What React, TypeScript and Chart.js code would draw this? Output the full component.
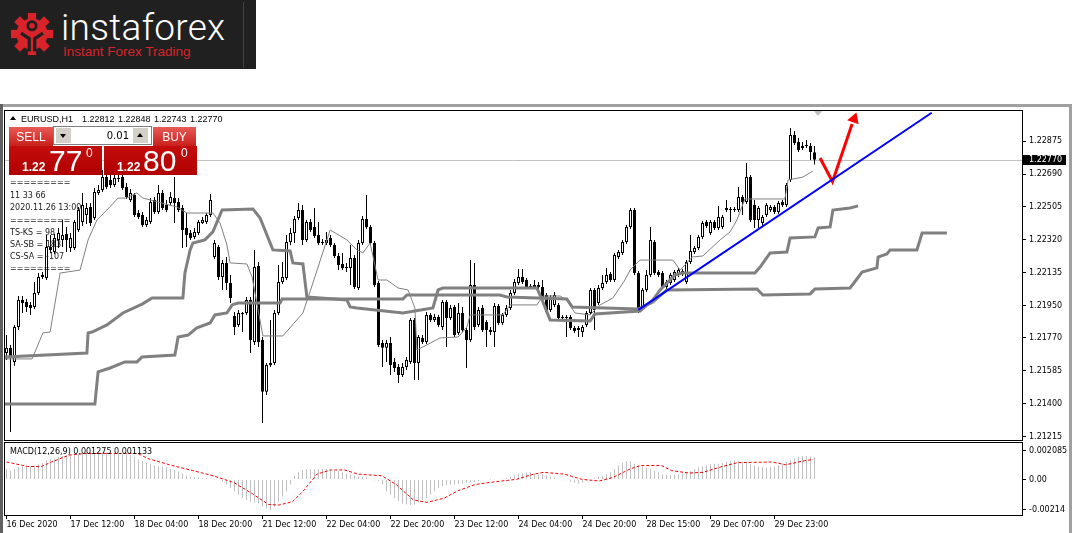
import React, { useEffect, useRef } from "react";
import { Chart, registerables } from "chart.js";

Chart.register(...registerables);

// ---------------- DATA ----------------
const opens = [
  1.21685,1.21714,1.21635,1.21831,1.21983,1.21972,1.21955,1.21944,1.22022,1.22112,
  1.22106,1.2228,1.22252,1.2232,1.2232,1.22353,1.22275,1.22275,1.22376,1.22421,
  1.2246,1.22505,1.22443,1.22584,1.226,1.22673,1.22656,1.22628,1.22668,1.22673,
  1.22617,1.22544,1.22572,1.22471,1.2246,1.22404,1.22421,1.22544,1.22477,1.22584,
  1.22516,1.22527,1.22555,1.22533,1.22499,1.22387,1.22359,1.22337,1.22359,1.22415,
  1.22421,1.2246,1.22224,1.2228,1.22112,1.22191,1.22078,1.21893,1.21843,1.2191,
  1.2191,1.21983,1.21747,1.22174,1.21758,1.21467,1.21618,1.21629,1.2191,1.22084,
  1.22106,1.22308,1.22359,1.22443,1.22488,1.2232,1.22421,1.22393,1.22348,1.22308,
  1.22303,1.22331,1.22292,1.2223,1.22185,1.22163,1.22163,1.22219,1.2205,1.22303,
  1.22438,1.22393,1.22303,1.22078,1.21742,1.21714,1.21742,1.21635,1.21607,1.21562,
  1.21607,1.21635,1.21871,1.21629,1.2177,1.21747,1.21899,1.21871,1.21887,1.21831,
  1.21972,1.21882,1.21944,1.21798,1.2191,1.21815,1.21758,1.22067,1.21843,1.21938,
  1.21859,1.21815,1.21803,1.21949,1.21854,1.21899,1.21938,1.22022,1.22078,1.22112,
  1.22095,1.22061,1.22056,1.22067,1.22056,1.22011,1.21927,1.21955,1.21955,1.21887,
  1.21882,1.21887,1.21826,1.21826,1.21803,1.21843,1.2191,1.22039,1.21966,1.2205,
  1.22084,1.22129,1.22095,1.22224,1.22247,1.22308,1.22393,1.22488,1.22134,1.21944,
  1.22039,1.22123,1.22308,1.2214,1.22134,1.22056,1.22078,1.22095,1.22123,1.22129,
  1.22084,1.22196,1.22252,1.22275,1.22337,1.22421,1.22359,1.22421,1.22387,1.22393,
  1.22499,1.22494,1.22488,1.22488,1.22561,1.22533,1.22673,1.22516,1.22432,1.22415,
  1.2246,1.22488,1.22505,1.22477,1.22533,1.22516,1.22656,1.22909,1.2287,1.22836,
  1.22853,1.22847,1.22812,
];
const highs = [
  1.21786,1.2173,1.21843,1.22005,1.22005,1.21988,1.21972,1.22084,1.22134,1.2214,
  1.22348,1.22348,1.22353,1.22387,1.22432,1.22393,1.22359,1.22432,1.22505,1.22584,
  1.22527,1.22527,1.22611,1.22628,1.22713,1.22701,1.2269,1.22685,1.22685,1.2269,
  1.2264,1.22606,1.22584,1.22488,1.22477,1.22449,1.22555,1.22561,1.22628,1.226,
  1.22544,1.22589,1.22673,1.22555,1.22516,1.22471,1.22376,1.22387,1.22432,1.22449,
  1.22471,1.22578,1.2232,1.22292,1.22207,1.22224,1.22123,1.21916,1.21927,1.21916,
  1.22,1.22,1.22264,1.22196,1.21775,1.21629,1.21871,1.21927,1.22179,1.22196,
  1.22348,1.22387,1.22455,1.22527,1.22516,1.22432,1.22438,1.22499,1.22421,1.22325,
  1.22365,1.22348,1.22303,1.22247,1.22247,1.22191,1.22292,1.22236,1.2232,1.22455,
  1.22572,1.22404,1.22314,1.2209,1.21758,1.21758,1.21775,1.21657,1.21624,1.21629,
  1.21663,1.21882,1.21882,1.21786,1.21786,1.21916,1.2191,1.21904,1.21899,1.21983,
  1.21983,1.21955,1.21955,1.21966,1.21944,1.21826,1.22207,1.22191,1.21944,1.21955,
  1.21871,1.21831,1.21966,1.2196,1.2191,1.21955,1.22039,1.22101,1.22157,1.22157,
  1.22106,1.22073,1.22095,1.22084,1.22095,1.22022,1.22011,1.22028,1.21966,1.21899,
  1.21899,1.21899,1.21837,1.21837,1.21843,1.21921,1.2205,1.2205,1.22067,1.22123,
  1.22163,1.2214,1.22247,1.22264,1.2232,1.22404,1.22499,1.22499,1.22146,1.2205,
  1.22151,1.22393,1.2232,1.22151,1.22146,1.22095,1.22134,1.22151,1.22163,1.22157,
  1.22207,1.22348,1.22286,1.22348,1.22426,1.22432,1.22432,1.22432,1.22511,1.2246,
  1.22544,1.22505,1.22505,1.22617,1.22572,1.22752,1.22685,1.22544,1.22511,1.2246,
  1.22527,1.22516,1.22516,1.22539,1.22544,1.2264,1.22948,1.22932,1.22892,1.2287,
  1.22881,1.22864,1.22848,
];
const lows = [
  1.21646,1.21242,1.21613,1.21815,1.2191,1.21916,1.21899,1.21932,1.22011,1.22101,
  1.22095,1.22247,1.22241,1.22275,1.2228,1.22252,1.22252,1.22264,1.22365,1.22398,
  1.2241,1.22398,1.22432,1.22572,1.22589,1.22606,1.22611,1.22617,1.22645,1.226,
  1.2255,1.22533,1.22449,1.22438,1.22393,1.22393,1.2241,1.22466,1.22466,1.22488,
  1.22477,1.22516,1.22415,1.22477,1.22275,1.2228,1.2232,1.22325,1.22348,1.2241,
  1.2241,1.22449,1.22213,1.22095,1.22039,1.22039,1.21966,1.21786,1.21831,1.21803,
  1.21899,1.21685,1.2173,1.21719,1.21292,1.2145,1.21607,1.21618,1.21899,1.22073,
  1.22095,1.22292,1.22303,1.22432,1.22292,1.22308,1.22365,1.22331,1.22292,1.22292,
  1.22292,1.2228,1.22219,1.22151,1.22151,1.2214,1.22067,1.22045,1.22039,1.22292,
  1.22381,1.22292,1.22056,1.21719,1.21607,1.21635,1.21562,1.21579,1.21517,1.21551,
  1.2159,1.21624,1.21534,1.21534,1.21736,1.21736,1.21859,1.21859,1.21831,1.21815,
  1.21719,1.21871,1.21775,1.21786,1.21803,1.21601,1.21747,1.21815,1.21831,1.21803,
  1.21719,1.21786,1.21719,1.21843,1.21843,1.21887,1.21927,1.22011,1.22067,1.22073,
  1.22045,1.22045,1.22045,1.22045,1.21988,1.21904,1.21916,1.21944,1.21871,1.21871,
  1.21775,1.21815,1.21798,1.21775,1.21775,1.21831,1.21899,1.21815,1.21955,1.22039,
  1.22073,1.22084,1.22084,1.22213,1.22236,1.22297,1.22381,1.22123,1.2191,1.21927,
  1.22028,1.22112,1.22123,1.22112,1.22045,1.22045,1.22067,1.22084,1.22112,1.22118,
  1.22073,1.22185,1.22241,1.22264,1.22325,1.22387,1.22348,1.22376,1.22376,1.22381,
  1.22477,1.22421,1.22477,1.22477,1.2246,1.22522,1.22421,1.22387,1.22376,1.22393,
  1.22449,1.22477,1.22466,1.22466,1.22505,1.22505,1.22645,1.22853,1.22814,1.22825,
  1.22836,1.22769,1.22743,
];
const closes = [
  1.21714,1.21663,1.21831,1.21983,1.21966,1.21944,1.21938,1.22022,1.22112,1.22123,
  1.2228,1.22264,1.22331,1.22359,1.22348,1.2232,1.22331,1.22421,1.22488,1.22516,
  1.22499,1.22415,1.22589,1.226,1.22673,1.22617,1.22628,1.22668,1.22662,1.22611,
  1.22561,1.22584,1.2246,1.22449,1.22404,1.22432,1.22533,1.22477,1.22584,1.22499,
  1.22488,1.22561,1.22527,1.22488,1.22376,1.22348,1.22331,1.22365,1.22421,1.22432,
  1.2246,1.22544,1.22303,1.22112,1.22191,1.22078,1.21994,1.21831,1.2191,1.21904,
  1.21983,1.21758,1.22168,1.21747,1.21467,1.21618,1.21629,1.2191,1.22084,1.22112,
  1.22308,1.22359,1.22438,1.22488,1.2232,1.22421,1.22376,1.22342,1.22303,1.22303,
  1.2232,1.22292,1.2223,1.22179,1.22163,1.22168,1.22219,1.22056,1.22303,1.22438,
  1.22393,1.22303,1.22067,1.2173,1.21714,1.21742,1.21618,1.21601,1.21562,1.21607,
  1.21646,1.21871,1.21629,1.21775,1.21747,1.21899,1.21871,1.21887,1.21843,1.21972,
  1.21882,1.21938,1.21786,1.2191,1.21815,1.21758,1.22067,1.21831,1.21927,1.21815,
  1.21815,1.21803,1.21949,1.21854,1.21899,1.21938,1.22022,1.22084,1.22112,1.22084,
  1.22056,1.22056,1.22067,1.22056,1.22,1.21916,1.22,1.22011,1.21882,1.21882,
  1.21887,1.21826,1.21809,1.21815,1.21831,1.2191,1.22039,1.21927,1.2205,1.22078,
  1.22123,1.22095,1.22236,1.22252,1.22308,1.22393,1.22488,1.22134,1.21938,1.22039,
  1.22123,1.2232,1.22134,1.22123,1.22056,1.22084,1.22123,1.2214,1.22151,1.22146,
  1.22196,1.22258,1.22275,1.22337,1.22415,1.22398,1.22421,1.22387,1.22449,1.22449,
  1.22488,1.22488,1.22494,1.22561,1.22533,1.22673,1.22432,1.22432,1.22499,1.22449,
  1.22516,1.22505,1.22477,1.22527,1.22516,1.22628,1.22909,1.22864,1.22825,1.22847,
  1.22847,1.22814,1.2277,
];

// Ichimoku style lines: [bar index, price]
const tenkanLine = [
  [-0.4,1.21652],[6.4,1.21652],[9.1,1.21798],[10.9,1.21803],[13.4,1.22134],[18.4,1.22151],
  [20.4,1.2232],[22.6,1.22432],[25.1,1.22488],[27.9,1.22555],[30.1,1.22555],[32.6,1.22584],
  [34.1,1.22555],[42.6,1.22505],[45.1,1.22471],[51.6,1.22471],[53.4,1.22415],[55.1,1.22292],
  [55.9,1.22191],[60.1,1.22185],[61.4,1.22112],[64.1,1.21781],[69.1,1.21781],[74.1,1.2191],
  [76.6,1.22078],[80.9,1.22376],[85.1,1.2232],[87.6,1.22264],[89.1,1.22247],[90.9,1.22303],
  [92.9,1.22095],[95.1,1.22095],[97.9,1.2205],[100.4,1.22039],[102.1,1.21938],[102.6,1.21702],
  [104.1,1.21719],[108.4,1.2177],[112.9,1.21775],[115.1,1.21831],[115.9,1.21899],[124.1,1.21899],
  [125.9,1.21955],[132.6,1.21955],[134.1,1.22005],[138.4,1.22005],[140.1,1.21983],[142.1,1.2191],
  [145.9,1.21899],[148.4,1.21955],[151.6,1.21994],[154.6,1.22095],[155.9,1.22151],[158.4,1.22207],
  [166.6,1.22207],[168.4,1.22151],[170.1,1.22191],[171.4,1.22224],[174.1,1.2223],[178.4,1.2232],
  [180.9,1.22365],[182.6,1.22432],[184.6,1.2255],[194.6,1.2255],[195.4,1.22657],[199.1,1.22673],
  [201.6,1.22707],
];
const spanA = [
  [-0.4,1.21663],[20.1,1.21685],[20.4,1.21798],[21.4,1.21803],[25.1,1.21843],[29.1,1.2191],
  [33.9,1.2196],[36.4,1.21994],[44.1,1.21994],[44.6,1.22134],[45.9,1.22264],[46.6,1.22303],
  [49.6,1.2232],[51.6,1.22365],[53.9,1.22488],[61.6,1.22494],[63.4,1.22443],[66.6,1.22264],
  [70.9,1.22258],[71.6,1.22191],[74.1,1.22185],[75.1,1.22],[85.1,1.21983],[85.9,1.21944],
  [87.6,1.21938],[99.1,1.2191],[106.6,1.21938],[107.9,1.22039],[109.1,1.2205],[132.6,1.2205],
  [133.9,1.21983],[135.9,1.21871],[145.9,1.21865],[147.1,1.21904],[158.4,1.21921],[161.6,1.21983],
  [163.4,1.22039],[167.1,1.22123],[168.9,1.22134],[187.1,1.22134],[188.4,1.22168],[190.9,1.22247],
  [195.1,1.22252],[195.9,1.22331],[202.1,1.22337],[202.9,1.22387],[205.9,1.22393],[206.6,1.22488],
  [210.9,1.22499],[212.9,1.22511],
];
const spanB = [
  [-0.4,1.21399],[22.1,1.21399],[22.9,1.21579],[25.9,1.21601],[29.6,1.21635],[32.6,1.21635],
  [33.9,1.21663],[42.1,1.21674],[42.9,1.21775],[45.4,1.21786],[47.6,1.21826],[50.9,1.21854],
  [52.1,1.21899],[55.1,1.2191],[56.4,1.21955],[57.9,1.21966],[68.4,1.21966],[68.9,1.21988],
  [99.1,1.21988],[100.1,1.22011],[123.4,1.22011],[125.1,1.22],[140.1,1.21988],[141.4,1.21944],
  [157.9,1.21932],[161.6,1.21972],[165.1,1.22039],[187.6,1.22045],[189.1,1.22011],[200.9,1.22017],
  [202.1,1.22045],[210.9,1.2205],[213.9,1.2214],[217.6,1.22163],[217.9,1.22224],[220.1,1.22241],
  [220.9,1.22264],[227.6,1.22264],[228.9,1.22359],[235.1,1.22359],
];
const trendBlue = [[157.95,1.21927],[231.3,1.23034]];
const arrowRed = [[203.4,1.2278],[206.5,1.22647],[211.4,1.22971]];
const arrowTip = [211.9,1.22999];

const macdHist = [
  0.00076,0.00064,0.00076,0.00089,0.00094,0.00094,0.00094,0.00101,0.00109,0.00118,
  0.00138,0.00143,0.0015,0.00163,0.00168,0.00168,0.00172,0.00175,0.00182,0.00187,
  0.00192,0.00192,0.00187,0.00192,0.00192,0.00192,0.00187,0.00187,0.00187,0.00182,
  0.00182,0.00175,0.00163,0.00143,0.00133,0.00118,0.00109,0.00101,0.00096,0.00094,
  0.00089,0.00076,0.00069,0.00059,0.00044,0.00027,0.0002,0.00018,0.00015,0.0001,
  0.0001,0.00005,0.00001,-0.00005,-0.00015,-0.00035,-0.00059,-0.00084,-0.00109,-0.00133,
  -0.00145,-0.00158,-0.00163,-0.0017,-0.00195,-0.00207,-0.00219,-0.00195,-0.00158,-0.00121,
  -0.00084,-0.00035,0.00027,0.00052,0.00069,0.00076,0.00076,0.00076,0.00076,0.00076,
  0.00076,0.00069,0.00064,0.00059,0.00052,0.00044,0.00035,0.00027,0.0002,0.00015,
  0.00015,0.00002,-0.00005,-0.0001,-0.00035,-0.00084,-0.00109,-0.00133,-0.00153,-0.0017,
  -0.00178,-0.00182,-0.00178,-0.00163,-0.00145,-0.00133,-0.00109,-0.00084,-0.00059,-0.00047,
  -0.00039,-0.00037,-0.00035,-0.0003,-0.0003,-0.00022,-0.00015,-0.00015,-0.0001,-0.00005,
  -0.00005,0.00001,0.00001,0.00005,0.00003,0.0001,0.0002,0.00035,0.00039,0.00044,
  0.00049,0.00052,0.00044,0.00039,0.00039,0.00032,0.0002,0.00015,0.00002,-0.00005,
  -0.00005,-0.00015,-0.00022,-0.0003,-0.00022,-0.0001,-0.00005,0.0001,0.0002,0.00027,
  0.00039,0.00052,0.00076,0.00101,0.00118,0.00133,0.00133,0.00113,0.00101,0.00094,
  0.00084,0.00076,0.00064,0.00052,0.00039,0.00035,0.00035,0.00039,0.00039,0.00044,
  0.00052,0.00059,0.00076,0.00089,0.00094,0.00101,0.00109,0.00113,0.00113,0.00118,
  0.00126,0.00133,0.00138,0.00133,0.00126,0.00118,0.00109,0.00101,0.00094,0.00089,
  0.00084,0.00089,0.00094,0.00101,0.00113,0.00126,0.00138,0.0015,0.00163,0.00168,
  0.00168,0.00163,0.00158,
];
const signalIdx = [
  0,5.3,8.7,11.3,15.6,19.9,32.8,35.4,41.4,46.6,51.7,56.9,61.2,65.5,68.1,71.5,74.1,77.6,81,84.5,
  87.9,93.9,97.4,101.7,105.1,109.4,112.9,117.2,122.3,127.5,131.8,134.3,139.5,143.8,148.2,151.6,
  155.9,158.5,163.7,166.3,170.6,174.1,178.4,182.7,191.4,194.8,200,201.7,
];
const signalVal = [
  0.00126,0.00094,0.00094,0.00126,0.00175,0.00187,0.00187,0.0015,0.00101,0.00064,0.00027,-0.00022,
  -0.00096,-0.00178,-0.00182,-0.00158,-0.00084,0.00039,0.00069,0.00069,0.00039,0.00027,-0.00035,
  -0.00145,-0.00163,-0.00133,-0.00079,-0.00035,-0.00015,0.00002,0.00039,0.00052,0.00039,0.00002,
  -0.0001,0.00015,0.00076,0.00101,0.00101,0.00064,0.00047,0.00052,0.00089,0.00121,0.00126,0.00106,
  0.00138,0.00143,
];

const priceTicks = [1.22875,1.2269,1.22505,1.2232,1.22135,1.2195,1.2177,1.21585,1.214,1.21215];
const macdTicks = [0.002085,0,-0.00214];
const macdTickLabels = ["0.002085","0.00","-0.00214"];
const timeTickIdx = [0,16,32,48,64,80,96,112,128,144,160,176,192];
const timeLabels = [
  "16 Dec 2020","17 Dec 12:00","18 Dec 04:00","18 Dec 20:00","21 Dec 12:00","22 Dec 04:00",
  "22 Dec 20:00","23 Dec 12:00","24 Dec 04:00","24 Dec 20:00","28 Dec 15:00","29 Dec 07:00","29 Dec 23:00",
];
const lastPrice = 1.2277;
const headerSymbol = "EURUSD,H1";
const headerValues = ["1.22812","1.22848","1.22743","1.22770"];
const infoLines = ["=========","11 33 66","2020.11.26 13:00","=========","TS-KS = 98","SA-SB = 183","CS-SA = -107","========="];
const macdCaption = "MACD(12,26,9) 0.001275 0.001133";

const X_MIN = -0.375, X_MAX = 253.875;
const Y_MIN = 1.211968, Y_MAX = 1.230438;
const M_MIN = -0.002531, M_MAX = 0.002617;

const FONT = "'DejaVu Sans', sans-serif";
const ARIAL = "'Liberation Sans', Arial, sans-serif";

function lineDs(pts: number[][], color: string, width: number, order: number) {
  return {
    type: "line" as const,
    data: pts.map(([x, y]) => ({ x, y })),
    borderColor: color,
    borderWidth: width,
    pointRadius: 0,
    pointHoverRadius: 0,
    tension: 0,
    fill: false,
    order,
    borderJoinStyle: "miter" as const,
    borderCapStyle: "butt" as const,
  };
}

const fixY = (s: any) => { s.width = 50; s.paddingTop = 0; s.paddingBottom = 0; };

export default function App() {
  const mainRef = useRef<HTMLCanvasElement>(null);
  const macdRef = useRef<HTMLCanvasElement>(null);

  useEffect(() => {
    const tickFont = { family: FONT, size: 8 };
    const bodies = opens.map((o, i) => ({ x: i, y: [o, closes[i]] }));
    const wicks = lows.map((l, i) => ({ x: i, y: [l, highs[i]] }));
    const bodyColors = opens.map((o, i) => (closes[i] >= o ? "#ffffff" : "#000000"));

    const framePlugin = {
      id: "frame",
      beforeDatasetsDraw(chart: any) {
        if (chart.canvas !== mainRef.current) return;
        const { ctx, chartArea } = chart;
        const y = Math.round(chart.scales.y.getPixelForValue(lastPrice)) + 0.5;
        ctx.save();
        ctx.strokeStyle = "#c0c0c0";
        ctx.lineWidth = 1;
        ctx.beginPath();
        ctx.moveTo(chartArea.left, y);
        ctx.lineTo(chartArea.right, y);
        ctx.stroke();
        ctx.restore();
      },
      afterDraw(chart: any) {
        const { ctx, chartArea } = chart;
        ctx.save();
        ctx.strokeStyle = "#000";
        ctx.lineWidth = 1;
        ctx.strokeRect(chartArea.left - 0.5, chartArea.top - 0.5, chartArea.right - chartArea.left + 1, chartArea.bottom - chartArea.top + 1);
        if (chart.canvas === mainRef.current) {
          const y = Math.round(chart.scales.y.getPixelForValue(lastPrice));
          ctx.fillStyle = "#000";
          ctx.fillRect(chartArea.right + 1, y - 5, 43, 10);
          ctx.fillStyle = "#fff";
          ctx.font = `8px ${FONT}`;
          ctx.textBaseline = "middle";
          ctx.textAlign = "left";
          ctx.fillText(lastPrice.toFixed(5), chartArea.right + 7, y);
        }
        ctx.restore();
      },
    };

    const main = new Chart(mainRef.current as HTMLCanvasElement, {
      type: "bar",
      data: {
        datasets: [
          lineDs(tenkanLine, "#808080", 1, 2),
          lineDs(spanA, "#808080", 3, 3),
          lineDs(spanB, "#808080", 3, 3),
          lineDs(trendBlue, "#0000ff", 2, 1),
          lineDs(arrowRed, "#ff0000", 3, 1),
          {
            type: "line" as const,
            data: [{ x: arrowTip[0], y: arrowTip[1] }],
            showLine: false,
            pointStyle: "triangle",
            pointRadius: 7,
            pointHoverRadius: 7,
            pointRotation: 19.5,
            pointBackgroundColor: "#ff0000",
            pointBorderColor: "#ff0000",
            pointBorderWidth: 0,
            order: 0,
          },
          {
            type: "bar" as const,
            data: bodies as any,
            backgroundColor: bodyColors,
            borderColor: "#000",
            borderWidth: 1,
            borderSkipped: false,
            barThickness: 3,
            grouped: false,
            inflateAmount: 0,
            order: 5,
          },
          {
            type: "bar" as const,
            data: wicks as any,
            backgroundColor: "#000",
            borderWidth: 0,
            barThickness: 1,
            grouped: false,
            inflateAmount: 0,
            order: 6,
          },
        ] as any,
      },
      options: {
        responsive: false,
        animation: false,
        devicePixelRatio: 1,
        events: [],
        layout: { autoPadding: false, padding: { left: 5, right: 0, top: 1, bottom: 2 } },
        plugins: { legend: { display: false }, tooltip: { enabled: false } },
        scales: {
          x: { type: "linear", min: X_MIN, max: X_MAX, display: false, offset: false, grid: { offset: false } },
          y: {
            type: "linear",
            position: "right",
            min: Y_MIN,
            max: Y_MAX,
            afterFit: fixY,
            afterBuildTicks: (s: any) => { s.ticks = priceTicks.map((v) => ({ value: v })); },
            grid: { drawOnChartArea: false, tickLength: 4, color: "#000" },
            border: { display: false },
            ticks: { autoSkip: false, padding: 3, color: "#000", font: tickFont, callback: (v: any) => Number(v).toFixed(5) },
          },
        },
      } as any,
      plugins: [framePlugin],
    });

    const macd = new Chart(macdRef.current as HTMLCanvasElement, {
      type: "bar",
      data: {
        datasets: [
          {
            type: "line" as const,
            data: signalIdx.map((x, i) => ({ x, y: signalVal[i] })),
            borderColor: "#ff0000",
            borderWidth: 1,
            borderDash: [3, 2],
            pointRadius: 0,
            pointHoverRadius: 0,
            tension: 0,
            fill: false,
            order: 0,
          },
          {
            type: "bar" as const,
            data: macdHist.map((v, i) => ({ x: i, y: v })),
            backgroundColor: "#c0c0c0",
            borderWidth: 0,
            barThickness: 1,
            grouped: false,
            inflateAmount: 0,
            order: 1,
          },
        ] as any,
      },
      options: {
        responsive: false,
        animation: false,
        devicePixelRatio: 1,
        events: [],
        layout: { autoPadding: false, padding: { left: 5, right: 0, top: 1, bottom: 0 } },
        plugins: { legend: { display: false }, tooltip: { enabled: false } },
        scales: {
          x: {
            type: "linear",
            min: X_MIN,
            max: X_MAX,
            offset: false,
            afterFit: (s: any) => { s.height = 18; s.paddingLeft = 0; s.paddingRight = 0; },
            afterBuildTicks: (s: any) => { s.ticks = timeTickIdx.map((v) => ({ value: v })); },
            grid: { drawOnChartArea: false, tickLength: 4, color: "#000", offset: false },
            border: { display: false },
            ticks: {
              autoSkip: false,
              maxRotation: 0,
              minRotation: 0,
              align: "start",
              padding: 1,
              color: "#000",
              font: tickFont,
              callback: (v: any) => {
                const k = timeTickIdx.indexOf(Number(v));
                return k >= 0 ? timeLabels[k] : "";
              },
            },
          },
          y: {
            type: "linear",
            position: "right",
            min: M_MIN,
            max: M_MAX,
            afterFit: fixY,
            afterBuildTicks: (s: any) => { s.ticks = macdTicks.map((v) => ({ value: v })); },
            grid: { drawOnChartArea: false, tickLength: 4, color: "#000" },
            border: { display: false },
            ticks: {
              autoSkip: false,
              padding: 3,
              color: "#000",
              font: tickFont,
              callback: (v: any) => {
                const k = macdTicks.indexOf(Number(v));
                return k >= 0 ? macdTickLabels[k] : "";
              },
            },
          },
        },
      } as any,
      plugins: [framePlugin],
    });

    return () => {
      main.destroy();
      macd.destroy();
    };
  }, []);

  const abs = (extra: React.CSSProperties): React.CSSProperties => ({ position: "absolute", ...extra });
  const mt4Text: React.CSSProperties = { fontFamily: FONT, fontSize: 8, lineHeight: "10px", color: "#000", whiteSpace: "pre" };
  const headerXs = [82, 118, 154, 190];
  const infoTops = [178, 191, 203, 216, 228, 240, 252, 264];

  const priceBox = (left: number, small: string, big: string, bigLeft: number, supLeft: number) => (
    <div style={abs({ left, top: 146, width: 93, height: 29, background: "linear-gradient(#c40d0d, #b00000)" })}>
      <div style={abs({ left: 13, top: 15, fontFamily: ARIAL, fontWeight: 700, fontSize: 12, color: "#fff", lineHeight: "12px" })}>{small}</div>
      <div style={abs({ left: bigLeft, top: 0, fontFamily: ARIAL, fontSize: 30, color: "#fff", lineHeight: "30px" })}>{big}</div>
      <div style={abs({ left: supLeft, top: 1, fontFamily: ARIAL, fontSize: 12, color: "#fff", lineHeight: "12px" })}>0</div>
    </div>
  );

  return (
    <div style={abs({ left: 0, top: 0, width: 1072, height: 533, background: "#fff", overflow: "hidden", position: "fixed" })}>
      {/* logo */}
      <div style={abs({ left: 0, top: 0, width: 256, height: 69, background: "#202020" })}>
        <svg width="44" height="44" viewBox="0 0 48 48" style={abs({ left: 10, top: 12 })}>
          <g fill="#d9232a">
            {[0, 45, 90, 135, 180, 225, 270, 315].map((a) => (
              <rect key={a} x="19.5" y="1" width="9" height="10" transform={`rotate(${a} 24 24)`} />
            ))}
            <circle cx="24" cy="24" r="17" />
          </g>
          <circle cx="24" cy="15" r="4.5" fill="none" stroke="#202020" strokeWidth="3" />
          <path d="M12 23 L21 29 L21 43 M36 23 L27 29 L27 43" stroke="#202020" strokeWidth="3.5" fill="none" />
        </svg>
        <div style={abs({ left: 61, top: 9, fontFamily: "Roboto, sans-serif", fontWeight: 300, fontSize: 37, color: "#fff", lineHeight: "37px", letterSpacing: 0.3 })}>instaforex</div>
        <div style={abs({ left: 63, top: 45, fontFamily: ARIAL, fontSize: 13.5, color: "#d9232a", lineHeight: "14px" })}>Instant Forex Trading</div>
        <div style={abs({ left: 243, top: 2, width: 1, height: 66, background: "#a01c1c" })} />
      </div>

      {/* window frame */}
      <div style={abs({ left: 0, top: 104, width: 1072, height: 3, background: "#a0a0a0" })} />
      <div style={abs({ left: 0, top: 104, width: 3, height: 429, background: "#606060" })} />
      <div style={abs({ left: 1069, top: 104, width: 3, height: 429, background: "#a0a0a0" })} />

      <canvas ref={mainRef} width={1072} height={332} style={abs({ left: 0, top: 110 })} />
      <canvas ref={macdRef} width={1072} height={91} style={abs({ left: 0, top: 442 })} />

      {/* shift marker */}
      <div style={abs({ left: 814, top: 111, width: 0, height: 0, borderLeft: "4px solid transparent", borderRight: "4px solid transparent", borderTop: "5px solid #c0c0c0" })} />

      {/* header */}
      <div style={abs({ left: 10, top: 116, width: 0, height: 0, borderLeft: "3px solid transparent", borderRight: "3px solid transparent", borderBottom: "4px solid #000" })} />
      <div style={abs({ left: 21, top: 114, ...mt4Text, fontFamily: ARIAL, fontSize: 9 })}>{headerSymbol}</div>
      {headerValues.map((v, i) => (
        <div key={i} style={abs({ left: headerXs[i], top: 114, ...mt4Text, fontFamily: ARIAL, fontSize: 9 })}>{v}</div>
      ))}

      {/* SELL / BUY panel */}
      <div style={abs({ left: 9, top: 127, width: 44, height: 19, background: "linear-gradient(#e85a56, #c8201c)", borderBottom: "1px solid #f08080" })}>
        <div style={abs({ left: 0, top: 4, width: 44, textAlign: "center", fontFamily: "'Liberation Sans Narrow', 'Liberation Sans', sans-serif", fontSize: 12, color: "#fff", lineHeight: "12px" })}>SELL</div>
      </div>
      <div style={abs({ left: 153, top: 127, width: 43, height: 19, background: "linear-gradient(#e85a56, #c8201c)", borderBottom: "1px solid #f08080" })}>
        <div style={abs({ left: 0, top: 4, width: 43, textAlign: "center", fontFamily: "'Liberation Sans Narrow', 'Liberation Sans', sans-serif", fontSize: 12, color: "#fff", lineHeight: "12px" })}>BUY</div>
      </div>
      <div style={abs({ left: 53, top: 126, width: 99, height: 19, background: "#fff", border: "1px solid #808080", boxSizing: "border-box" })}>
        <div style={abs({ left: 2, top: 1, width: 15, height: 15, background: "#d4d0c8" })}>
          <div style={abs({ left: 4, top: 6, width: 0, height: 0, borderLeft: "3.5px solid transparent", borderRight: "3.5px solid transparent", borderTop: "4px solid #000" })} />
        </div>
        <div style={abs({ left: 40, top: 3, width: 35, textAlign: "right", fontFamily: FONT, fontSize: 10, lineHeight: "12px", color: "#000" })}>0.01</div>
        <div style={abs({ left: 79, top: 1, width: 15, height: 15, background: "#d4d0c8" })}>
          <div style={abs({ left: 4, top: 5, width: 0, height: 0, borderLeft: "3.5px solid transparent", borderRight: "3.5px solid transparent", borderBottom: "4px solid #000" })} />
        </div>
      </div>
      {priceBox(9, "1.22", "77", 40, 77)}
      {priceBox(104, "1.22", "80", 39, 77)}

      {/* info block */}
      {infoLines.map((s, i) => (
        <div key={i} style={abs({ left: 10, top: infoTops[i], ...mt4Text, color: "#1a1a1a" })}>{s}</div>
      ))}

      {/* MACD caption */}
      <div style={abs({ left: 10, top: 447, ...mt4Text })}>{macdCaption}</div>
    </div>
  );
}
